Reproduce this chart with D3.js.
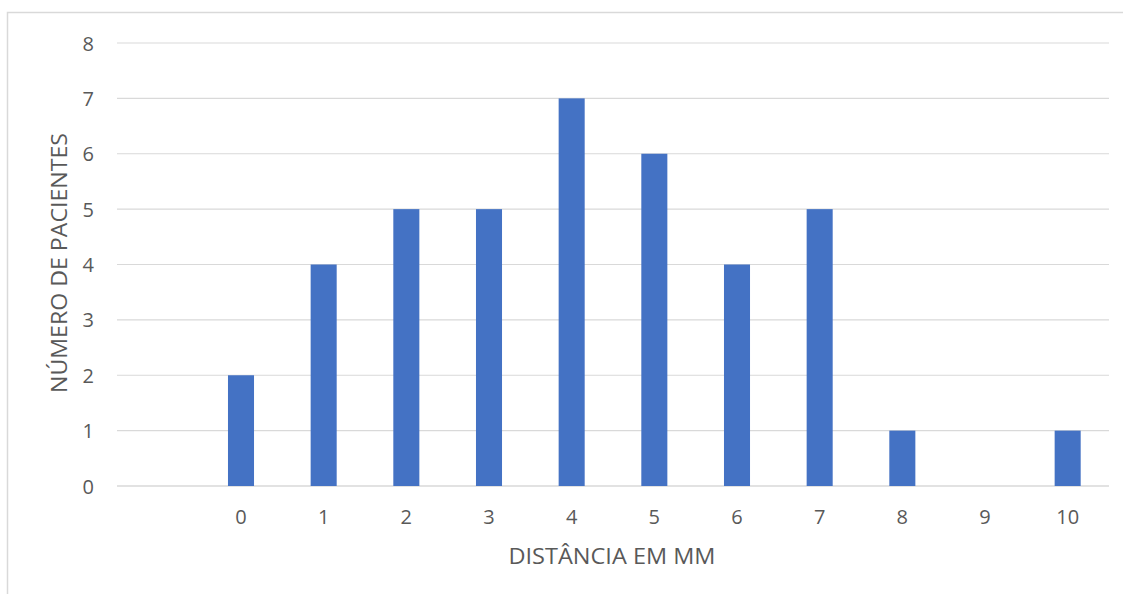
<!DOCTYPE html>
<html><head><meta charset="utf-8">
<script src="https://cdn.jsdelivr.net/npm/d3@7"></script>
<style>body{margin:0;background:#fff;} text{font-family:"Open Sans",sans-serif;fill:#595959;}</style>
</head><body>
<svg id="c" width="1123" height="594"></svg>
<script>
const categories = ["", "0", "1", "2", "3", "4", "5", "6", "7", "8", "9", "10"];
const values = [null, 2, 4, 5, 5, 7, 6, 4, 5, 1, 0, 1];
const yTicks = [0, 1, 2, 3, 4, 5, 6, 7, 8];
const xTitle = "DISTÂNCIA EM MM";
const yTitle = "NÚMERO DE PACIENTES";

const svg = d3.select("#c");
const m = {left:117, right:1109, top:43, bottom:486};
svg.append("rect").attr("x",7.5).attr("y",12.5).attr("width",1130).attr("height",600)
  .attr("fill","none").attr("stroke","#d9d9d9").attr("stroke-width",1.5);

const x = d3.scaleBand().domain(categories).range([m.left,m.right]).paddingInner(0.685).paddingOuter(0.3425);
const y = d3.scaleLinear().domain([0,8]).range([m.bottom,m.top]);

const g = svg.append("g");
g.selectAll("line.grid").data(yTicks).join("line")
  .attr("x1",m.left).attr("x2",m.right)
  .attr("y1",d=>y(d)).attr("y2",d=>y(d))
  .attr("stroke","#d9d9d9").attr("stroke-width",d=>d===0?1.5:1.2);

g.selectAll("rect.bar").data(categories.map((c,i)=>({c,v:values[i]})).filter(d=>d.v)).join("rect")
  .attr("x",d=>x(d.c)).attr("width",x.bandwidth())
  .attr("y",d=>y(d.v)).attr("height",d=>y(0)-y(d.v))
  .attr("fill","#4472c4");

const yAxis = d3.axisLeft(y).tickValues(yTicks).tickSize(0).tickPadding(0);
const ya = svg.append("g").attr("transform",`translate(${m.left-23},0)`).call(yAxis);
ya.select(".domain").remove();
ya.selectAll("text").style("font-size","20px").attr("fill","#595959").attr("dy","0.35em");

const xAxis = d3.axisBottom(x).tickSize(0).tickPadding(0);
const xa = svg.append("g").attr("transform",`translate(0,${m.bottom+23})`).call(xAxis);
xa.select(".domain").remove();
xa.selectAll("text").style("font-size","20px").attr("fill","#595959").attr("dy","0.75em");

svg.append("text").attr("x",612).attr("y",564).attr("text-anchor","middle")
  .style("font-size","22px").attr("textLength",207).attr("lengthAdjust","spacingAndGlyphs").text(xTitle);
svg.append("text").attr("transform","translate(67,263) rotate(-90)").attr("text-anchor","middle")
  .style("font-size","22px").attr("textLength",260).attr("lengthAdjust","spacingAndGlyphs").text(yTitle);
</script>
</body></html>
